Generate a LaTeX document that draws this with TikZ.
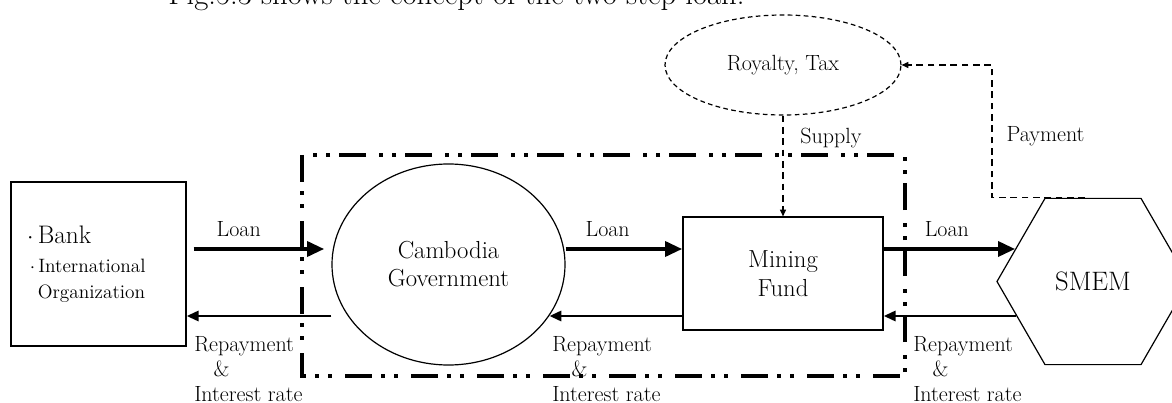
\documentclass[tikz,border=0pt]{standalone}
\usepackage{amsmath}
\usepackage{fontspec}
\usepackage{tikz}
\usetikzlibrary{arrows.meta, positioning, shapes.geometric, calc}

\begin{document}
\begin{tikzpicture}[
  x=0.75pt, y=-0.75pt,
  box/.style   = {draw, line width=0.9pt, rectangle, inner sep=0pt},
  oval/.style  = {draw, line width=0.9pt, ellipse, inner sep=0pt},
  lbl/.style   = {font=\fontsize{16.5}{18.75}\selectfont, inner sep=0pt},
  big/.style   = {font=\fontsize{18.5}{21}\selectfont, align=center},
  loan/.style  = {-{Triangle[length=13pt,width=11pt]}, line width=3.6pt},
  repay/.style = {-{Triangle[length=9pt,width=7.5pt]}, line width=2.2pt},
  flow/.style  = {-{Triangle[length=5pt,width=4.5pt]}, line width=1pt, dash pattern=on 5pt off 3.5pt},
  frame/.style = {line width=3pt, line join=miter,
                  dash pattern=on 20pt off 7pt on 3pt off 7pt on 3pt off 9.5pt},
]
  \useasboundingbox (0,0) rectangle (1172,403);

  % cut-off line of the running text above the figure
  \node[anchor=base west, inner sep=0pt, font=\fontsize{23}{27}\selectfont] (intro) at (168,5)
    {Fig.5.3 shows the concept of the two-step loan.};

  \coordinate (loanrow) at (0,249);
  \coordinate (backrow) at (0,316);

  \node[box, minimum width=131.25pt, minimum height=123pt, text width=107pt, inner xsep=12pt,
        align=left, font=\fontsize{14.5}{19}\selectfont] (bank) at (98.5,264)
    {{\fontsize{19}{21}\selectfont$\cdot$\,Bank}\\[3pt]
     \hspace*{2pt}$\cdot$\,International\\
     \hspace*{8pt}Organization};
  \node[oval, big, minimum width=174.75pt, minimum height=150.75pt] (gov) at (448.5,264.5)
    {Cambodia\\Government};
  \node[box, big, minimum width=150pt, minimum height=84.75pt,
        font=\fontsize{18.5}{21.75}\selectfont] (fund) at (783,273.5) {Mining\\Fund};
  \node[draw, line width=0.9pt, regular polygon, regular polygon sides=6, minimum size=144pt,
        inner sep=0pt, font=\fontsize{20}{23}\selectfont] (smem) at (1093,281.5) {SMEM};
  \node[oval, lbl, dash pattern=on 3.5pt off 2.5pt, minimum width=177pt, minimum height=75pt]
    (tax) at (783,65) {Royalty, Tax};

  % two-step loan boundary
  \draw[frame] (302,155) rectangle (905,376);

  \draw[loan, shorten <=5.25pt, shorten >=5.25pt] (bank.east |- loanrow)
    -- node[lbl, pos=0.36, above=7.5pt] (lo1) {Loan} (gov.west |- loanrow);
  \draw[loan] (gov.east |- loanrow)
    -- node[lbl, pos=0.36, above=7.5pt] (lo2) {Loan} (fund.west |- loanrow);
  \draw[loan] (fund.east |- loanrow)
    -- node[lbl, pos=0.48, above=7.5pt] (lo3) {Loan} (loanrow -| smem.157);

  \draw[repay] (gov.west |- backrow) -- (bank.east |- backrow);
  \draw[repay] (fund.west |- backrow) -- (backrow -| gov.333);
  \draw[repay] (backrow -| smem.204) -- (fund.east |- backrow);

  \node[lbl, align=left, anchor=north west] (rep1) at (194,336)
    {Repayment\\\hspace*{14.5pt}\&\\Interest rate};
  \node[lbl, align=left, anchor=north west] (rep2) at (552,336)
    {Repayment\\\hspace*{14.5pt}\&\\Interest rate};
  \node[lbl, align=left, anchor=north west] (rep3) at (913,336)
    {Repayment\\\hspace*{14.5pt}\&\\Interest rate};

  \coordinate (paybend) at (992,65);
  \draw[flow] (tax.south) -- node[lbl, pos=0.22, right=12.5pt] (sup) {Supply} (fund.north);
  \draw[flow] ([xshift=-6pt]smem.north) -| node[lbl, pos=0.73, right=10.5pt] (pay) {Payment}
    (paybend) -- (tax.east);
\end{tikzpicture}
\end{document}
